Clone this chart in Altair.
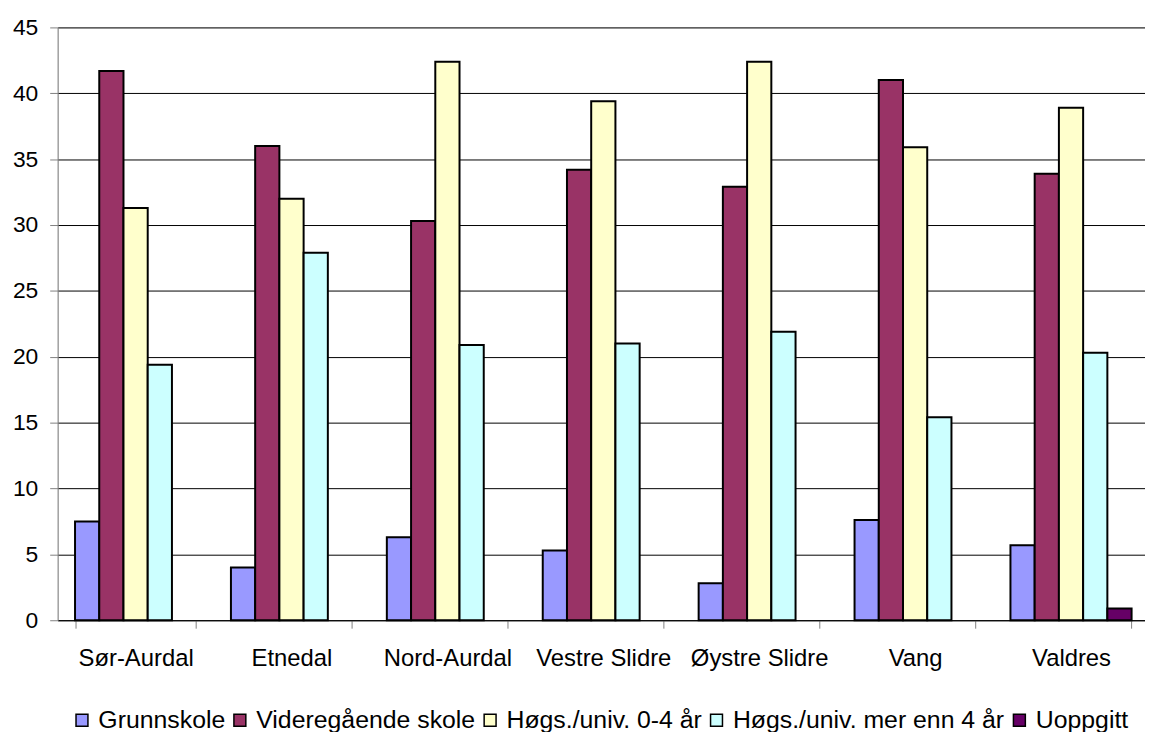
import altair as alt
import pandas as pd

municipalities = ["Sør-Aurdal", "Etnedal", "Nord-Aurdal", "Vestre Slidre",
                  "Øystre Slidre", "Vang", "Valdres"]
series_names = ["Grunnskole", "Videregående skole", "Høgs./univ. 0-4 år",
                "Høgs./univ. mer enn 4 år", "Uoppgitt"]
grunnskole = [7.5, 4.0, 6.3, 5.3, 2.8, 7.6, 5.7]
videregaende = [41.7, 36.0, 30.3, 34.2, 32.9, 41.0, 33.9]
hogs_0_4 = [31.3, 32.0, 42.4, 39.4, 42.4, 35.9, 38.9]
hogs_over_4 = [19.4, 27.9, 20.9, 21.0, 21.9, 15.4, 20.3]
uoppgitt = [None, None, None, None, None, None, 0.9]
colors = ["#9999FF", "#993366", "#FFFFCC", "#CCFFFF", "#660066"]
y_ticks = [0, 5, 10, 15, 20, 25, 30, 35, 40, 45]

rows = []
for name, vals in zip(series_names, [grunnskole, videregaende, hogs_0_4, hogs_over_4, uoppgitt]):
    for m, v in zip(municipalities, vals):
        if v is not None:
            rows.append({"Kommune": m, "Serie": name, "Verdi": v})
df = pd.DataFrame(rows)

FONT = "Liberation Sans"

chart = alt.Chart(df).mark_bar(stroke="black", strokeWidth=2).encode(
    x=alt.X("Kommune:N", sort=municipalities,
            scale=alt.Scale(range=[0, 1099], paddingInner=0.223, paddingOuter=0.1115),
            axis=alt.Axis(title=None, labelAngle=0, tickBand="extent", domainColor="black",
                          tickColor="#808080", tickSize=8, labelPadding=19,
                          labelFontSize=24, labelFont=FONT, labelColor="black", grid=False)),
    xOffset=alt.XOffset("Serie:N", sort=series_names,
                        scale=alt.Scale(domain=series_names, paddingInner=0, paddingOuter=0)),
    y=alt.Y("Verdi:Q", scale=alt.Scale(domain=[0, 45], nice=False),
            axis=alt.Axis(title=None, values=y_ticks, grid=True, gridColor="black",
                          gridWidth=1, domainColor="#808080", tickColor="#808080",
                          tickSize=8, labelPadding=12, labelFontSize=23, labelFont=FONT,
                          labelColor="black")),
    color=alt.Color("Serie:N", sort=series_names,
                    scale=alt.Scale(domain=series_names, range=colors),
                    legend=alt.Legend(title=None, orient="none", direction="horizontal",
                                      columns=5, legendX=12, legendY=685,
                                      symbolType="square", symbolSize=144,
                                      symbolStrokeColor="black", symbolStrokeWidth=1.5,
                                      labelFontSize=25, labelFont=FONT, labelColor="black",
                                      labelLimit=0, labelOffset=4, columnPadding=2)),
).properties(
    width=1095,
    height=597,
    autosize=alt.AutoSizeParams(type="none"),
    padding={"left": 50, "top": 17, "right": 0, "bottom": 110},
).configure_view(stroke=None).configure(background="white")

chart.save("out.html", embed_options={"renderer": "svg", "actions": False})
